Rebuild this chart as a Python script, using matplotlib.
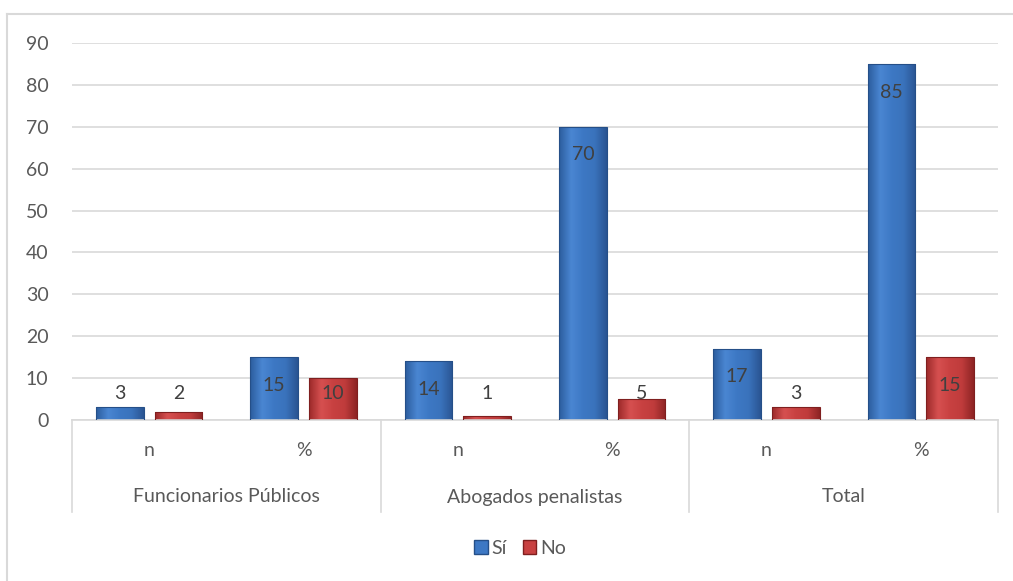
import matplotlib
matplotlib.use("Agg")
import matplotlib.pyplot as plt
import matplotlib.transforms as mtransforms
from matplotlib.lines import Line2D
from matplotlib.colors import LinearSegmentedColormap
import numpy as np

plt.rcParams['font.family'] = ['Lato', 'DejaVu Sans']

groups = ["Funcionarios Públicos", "Abogados penalistas", "Total"]
subcats = ["n", "%"]
series_names = ["Sí", "No"]
si_values = [3, 15, 14, 70, 17, 85]
no_values = [2, 10, 1, 5, 3, 15]
yticks = [0, 10, 20, 30, 40, 50, 60, 70, 80, 90]

W, H = 1013, 581
fig = plt.figure(figsize=(W / 100, H / 100), dpi=100)
ax = fig.add_axes([72 / W, (H - 420) / H, (998 - 72) / W, (420 - 43) / H])

txt = '#595959'
grid = '#d9d9d9'
fs = 14

n = len(si_values)
x = np.arange(n)
bw = 0.31
off = 0.19

cmaps = {
    "Sí": LinearSegmentedColormap.from_list("b", ["#2c5d9e", "#4a86d2", "#3d78c4", "#3a73bc", "#2a5593"]),
    "No": LinearSegmentedColormap.from_list("r", ["#9c2a2a", "#d65050", "#c84141", "#c03c3c", "#8e2424"]),
}
edges = {"Sí": "#254f88", "No": "#7f1f1f"}

ax.set_xlim(-0.5, n - 0.5)
ax.set_ylim(0, 90)

grad = np.linspace(0, 1, 64).reshape(1, -1)
for vals, name, sgn in [(si_values, "Sí", -1), (no_values, "No", 1)]:
    bars = ax.bar(x + sgn * off, vals, width=bw, color='none', edgecolor=edges[name], linewidth=0.8, zorder=3)
    for b, v in zip(bars, vals):
        x0, w_, h_ = b.get_x(), b.get_width(), b.get_height()
        im = ax.imshow(grad, extent=[x0, x0 + w_, 0, h_], aspect='auto', cmap=cmaps[name], zorder=2.5,
                       interpolation='bicubic')
        im.set_clip_path(b)
        ly = max(v - 6.7, 6.4)
        ax.text(b.get_x() + w_ / 2, ly, str(v), ha='center', va='center', fontsize=fs, color='#404040', zorder=5)

ax.set_yticks(yticks)
ax.set_yticklabels([str(t) for t in yticks], fontsize=fs, color=txt)
ax.tick_params(axis='y', length=0, pad=17)
ax.yaxis.grid(True, color=grid, linewidth=1.2)
ax.set_axisbelow(True)
for s in ['top', 'right', 'left']:
    ax.spines[s].set_visible(False)
ax.spines['bottom'].set_color(grid)
ax.spines['bottom'].set_linewidth(1.2)
ax.set_xticks([])

trans = mtransforms.blended_transform_factory(ax.transData, ax.transAxes)
px = 1 / (420 - 43)
for i in range(n):
    ax.text(i, -30 * px, subcats[i % 2], transform=trans, ha='center', va='center', fontsize=fs, color=txt)
for g, name in enumerate(groups):
    ax.text(2 * g + 0.5, -77 * px, name, transform=trans, ha='center', va='center', fontsize=fs, color=txt)
for g in range(len(groups) + 1):
    xs = 2 * g - 0.5
    ax.add_line(Line2D([xs, xs], [0, -92 * px], transform=trans, color=grid, linewidth=1.2, clip_on=False))

handles = [plt.Rectangle((0, 0), 1, 1, facecolor=c, edgecolor=edges[nm])
           for nm, c in [("Sí", "#3d78c4"), ("No", "#c84141")]]
fig.legend(handles, series_names, loc='center', bbox_to_anchor=(520 / W, (H - 548) / H), ncol=2,
           frameon=False, fontsize=fs, handlelength=0.7, handleheight=0.7, handletextpad=0.2,
           columnspacing=0.8, labelcolor=txt)

fig.add_artist(Line2D([7 / W, 7 / W], [0, (H - 14) / H], transform=fig.transFigure, color=grid, linewidth=1.5))
fig.add_artist(Line2D([7 / W, 1], [(H - 14) / H, (H - 14) / H], transform=fig.transFigure, color=grid, linewidth=1.5))

fig.savefig("out.png", dpi=100)
